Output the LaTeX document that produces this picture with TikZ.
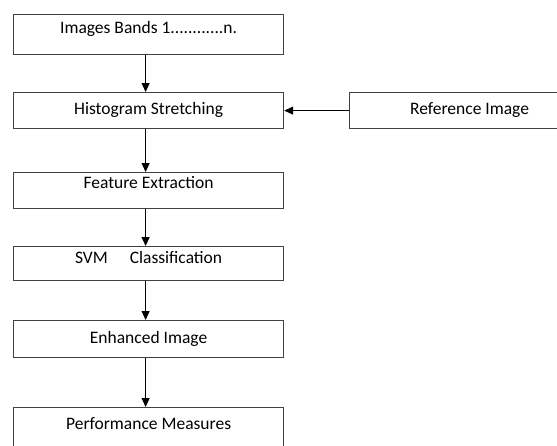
\documentclass[tikz,border=0pt]{standalone}
\usepackage{fontspec}
\setmainfont{Carlito}
\usetikzlibrary{arrows.meta}

\begin{document}
\begin{tikzpicture}[x=1pt, y=-1pt,
    every node/.style={font=\fontsize{17.5}{20}\selectfont},
    stepbox/.style={draw=black!75, line width=1.2pt, anchor=north west, inner sep=0pt, minimum width=270pt},
    flow/.style={-{Triangle[length=9pt, width=8pt]}, line width=1pt}]
        % Okvir slike (pikseli)
        \def\colX{13} % lijevi rub stupca
        \def\arrX{-3pt} % pomak strelica ulijevo
        \useasboundingbox (0,0) rectangle (557,445);
        \clip (0,0) rectangle (557,445);

        % Glavni stupac
        \node[stepbox, text height=19pt, text depth=21pt] (bands) at (\colX,14) {Images Bands 1............n.};
        \node[stepbox, text height=22pt, text depth=14pt] (stretch) at (\colX,92) {Histogram Stretching};
        \node[stepbox, text height=16pt, text depth=20pt] (feature) at (\colX,172) {Feature Extraction};
        \node[stepbox, text height=17pt, text depth=17pt] (svm) at (\colX,246) {SVM\hspace{22pt}Classification};
        \node[stepbox, text height=23pt, text depth=14pt] (enhanced) at (\colX,320) {Enhanced Image};
        \node[stepbox, text height=22pt, text depth=22pt] (measures) at (\colX,407) {Performance Measures};

        % Referentna slika
        \node[stepbox, minimum width=240pt, text height=22pt, text depth=14pt] (reference) at (349,92) {Reference Image};

        % Strelice
        \draw[flow] ([xshift=\arrX]bands.south) -- ([xshift=\arrX]stretch.north);
        \draw[flow] ([xshift=\arrX]stretch.south) -- ([xshift=\arrX]feature.north);
        \draw[flow] ([xshift=\arrX]feature.south) -- ([xshift=\arrX]svm.north);
        \draw[flow] ([xshift=\arrX]svm.south) -- ([xshift=\arrX]enhanced.north);
        \draw[flow] ([xshift=\arrX]enhanced.south) -- ([xshift=\arrX]measures.north);
        \draw[flow] (reference.west) -- (stretch.east);

    \end{tikzpicture}
\end{document}
